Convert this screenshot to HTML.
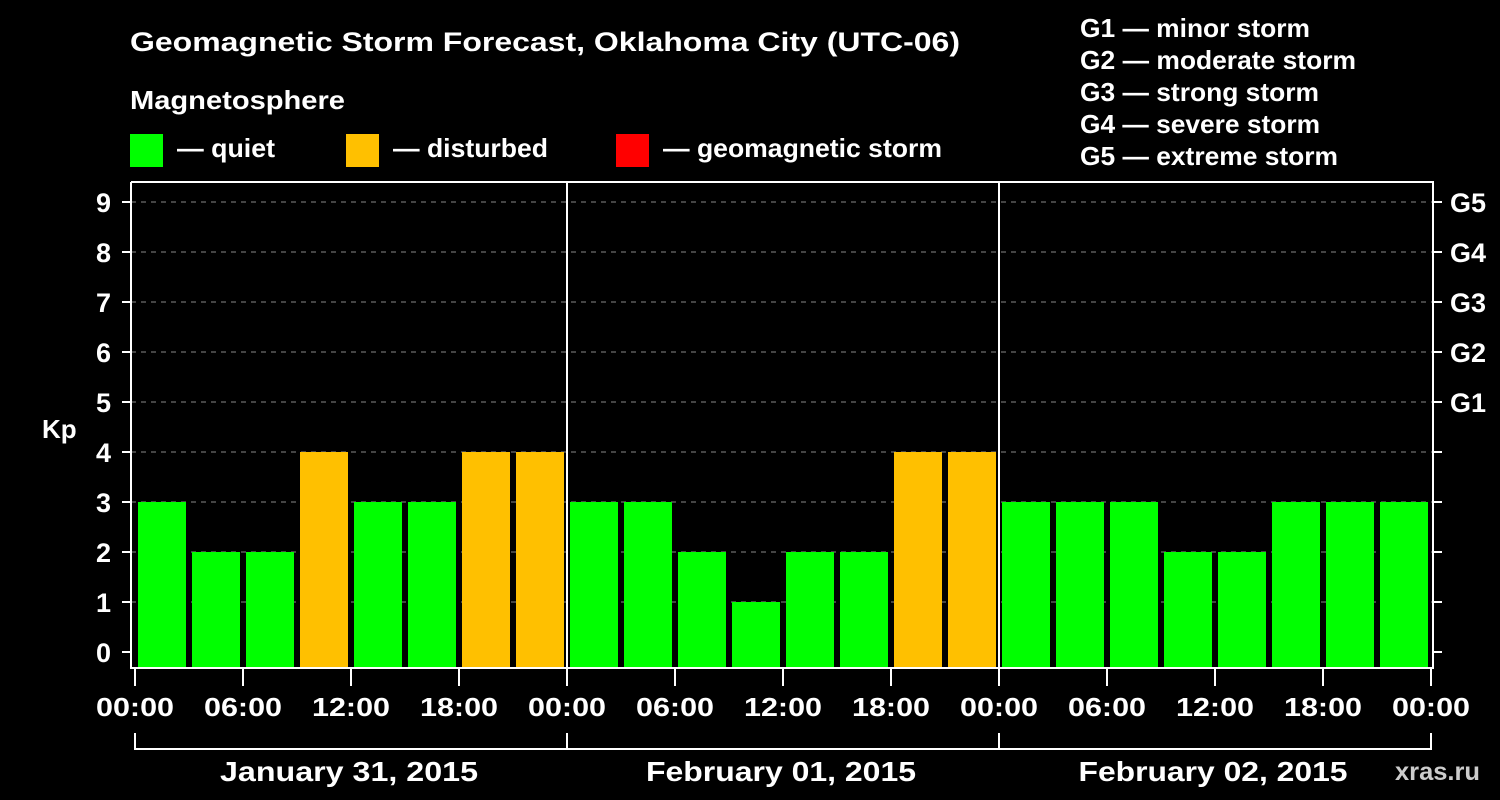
<!DOCTYPE html>
<html><head><meta charset="utf-8"><style>
body{margin:0;background:#000;}
svg{display:block;font-family:"Liberation Sans",Arial,sans-serif;font-weight:bold;}
</style></head><body>
<svg width="1500" height="800" viewBox="0 0 1500 800" id="chart">
<rect width="1500" height="800" fill="#000"/>
<text x="130" y="51" fill="#fff" font-size="27" textLength="830" lengthAdjust="spacingAndGlyphs">Geomagnetic Storm Forecast, Oklahoma City (UTC-06)</text>
<text x="130" y="109" fill="#fff" font-size="26" textLength="215" lengthAdjust="spacingAndGlyphs">Magnetosphere</text>
<g><rect x="130" y="134" width="33" height="33" fill="#00ff00"/><text x="177" y="157" fill="#fff" font-size="26" textLength="98" lengthAdjust="spacingAndGlyphs">— quiet</text></g>
<g><rect x="346" y="134" width="33" height="33" fill="#ffc000"/><text x="393" y="157" fill="#fff" font-size="26" textLength="155" lengthAdjust="spacingAndGlyphs">— disturbed</text></g>
<g><rect x="616" y="134" width="33" height="33" fill="#ff0000"/><text x="663" y="157" fill="#fff" font-size="26" textLength="279" lengthAdjust="spacingAndGlyphs">— geomagnetic storm</text></g>
<g fill="#fff" font-size="26" lengthAdjust="spacingAndGlyphs">
<text x="1080" y="37" textLength="230" lengthAdjust="spacingAndGlyphs">G1 — minor storm</text>
<text x="1080" y="69" textLength="276" lengthAdjust="spacingAndGlyphs">G2 — moderate storm</text>
<text x="1080" y="101" textLength="239" lengthAdjust="spacingAndGlyphs">G3 — strong storm</text>
<text x="1080" y="133" textLength="240" lengthAdjust="spacingAndGlyphs">G4 — severe storm</text>
<text x="1080" y="165" textLength="258" lengthAdjust="spacingAndGlyphs">G5 — extreme storm</text>
</g>
<text x="42" y="438" fill="#fff" font-size="26">Kp</text>
<text x="1395" y="780" fill="#fff" font-size="25" opacity="0.8" textLength="85" lengthAdjust="spacingAndGlyphs">xras.ru</text>
<g id="grid"></g><g id="bars"></g><g id="axes"></g>
</svg>
<script>
const kpValues=[3,2,2,4,3,3,4,4, 3,3,2,1,2,2,4,4, 3,3,3,2,2,3,3,3];
const yTicks=[0,1,2,3,4,5,6,7,8,9];
const gLabels={5:"G1",6:"G2",7:"G3",8:"G4",9:"G5"};
const xTickLabels=["00:00","06:00","12:00","18:00","00:00","06:00","12:00","18:00","00:00","06:00","12:00","18:00","00:00"];
const dayLabels=["January 31, 2015","February 01, 2015","February 02, 2015"];
(function(){
const NS="http://www.w3.org/2000/svg";
const x0=135,dayW=432,slot=54,pLeft=131,pRight=1433,pTop=182,pBottom=668;
const yS=v=>652-50*v;
const xh=h=>x0+h*(dayW/24);
function mk(t,a,p){const e=document.createElementNS(NS,t);for(const k in a)e.setAttribute(k,a[k]);p.appendChild(e);return e;}
const grid=document.getElementById('grid'),bars=document.getElementById('bars'),axes=document.getElementById('axes');
yTicks.forEach(v=>{
 if(v>0){const l=mk('line',{x1:pLeft,x2:pRight,y1:yS(v),y2:yS(v),stroke:'#888','stroke-dasharray':'5,5','stroke-width':1},grid);
 
 }
 const t=mk('line',{x1:122,x2:pLeft,y1:yS(v),y2:yS(v),stroke:'#fff','stroke-width':2},axes);
 
 
 const t2=mk('line',{x1:pRight,x2:1442,y1:yS(v),y2:yS(v),stroke:'#fff','stroke-width':2},axes);
 
 
 const tx=mk('text',{x:111,y:yS(v)+10,fill:'#fff','font-size':27,'text-anchor':'end'},axes);tx.textContent=v;
 
 
 if(gLabels[v]){const g=mk('text',{x:1450,y:yS(v)+10,fill:'#fff','font-size':27},axes);g.textContent=gLabels[v];
 
 }
});
kpValues.forEach((v,i)=>{
 const c=v>=5?'#ff0000':(v>=4?'#ffc000':'#00ff00');
 const r=mk('rect',{x:xh(i*3)+3,y:yS(v),width:slot-6,height:pBottom-yS(v),fill:c},bars);
 
 
});
const frame=mk('path',{d:`M${pLeft} ${pTop}V${pBottom}H${pRight}V${pTop}H${pLeft}`,fill:'none',stroke:'#fff','stroke-width':2},axes);


[1,2].forEach(d=>{const l=mk('line',{x1:x0+d*dayW,x2:x0+d*dayW,y1:pTop,y2:pBottom,stroke:'#fff','stroke-width':2},axes);
 
 });
xTickLabels.forEach((s,i)=>{const xx=xh(i*6);
 const t=mk('line',{x1:xx,x2:xx,y1:pBottom,y2:686,stroke:'#fff','stroke-width':2},axes);
 
 
 const tx=mk('text',{x:xx,y:716,fill:'#fff','font-size':26,'text-anchor':'middle',textLength:78,lengthAdjust:'spacingAndGlyphs'},axes);tx.textContent=s;
 
 });
const br=mk('path',{d:`M${x0} 733V749H${x0+3*dayW}V733`+[1,2].map(d=>`M${x0+d*dayW} 733V749`).join(''),fill:'none',stroke:'#fff','stroke-width':2},axes);


const dayW2=[258,270,269];
dayLabels.forEach((s,d)=>{const tx=mk('text',{x:x0+d*dayW+dayW/2-2,y:781,fill:'#fff','font-size':28,'text-anchor':'middle',textLength:dayW2[d],lengthAdjust:'spacingAndGlyphs'},axes);tx.textContent=s;
 
 });
})();
</script>
</body></html>
